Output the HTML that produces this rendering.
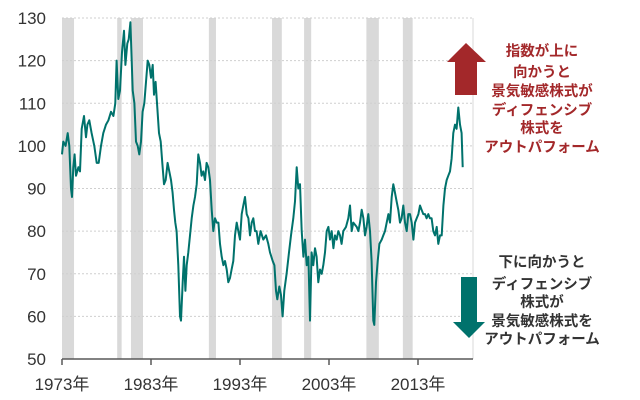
<!DOCTYPE html>
<html><head><meta charset="utf-8"><style>
html,body{margin:0;padding:0;background:#fff;}
svg{display:block;font-family:"Liberation Sans","Noto Sans CJK JP",sans-serif;}
</style></head><body>
<svg id="chart" width="640" height="400" viewBox="0 0 640 400">
<g id="bands"></g>
<g id="grid"></g>
<line x1="473" y1="18" x2="473" y2="359" stroke="#d9d9d9" stroke-width="1"/>
<g id="yaxis"></g>
<g id="xaxis"></g>
<path id="series" fill="none" stroke="#00726c" stroke-width="2" stroke-linejoin="round"/>
<g>
<polygon points="466,43 486,62 477,62 477,95 455,95 455,62 447,62" fill="#a3282a"/>
<g font-size="14.5" font-weight="bold" fill="#a3282a" text-anchor="middle">
<text x="542" y="56">指数が上に</text>
<text x="542" y="77">向かうと</text>
<text x="542" y="96">景気敏感株式が</text>
<text x="542" y="115">ディフェンシブ</text>
<text x="542" y="133">株式を</text>
<text x="542" y="152">アウトパフォーム</text>
</g></g>
<g>
<polygon points="461,277 477,277 477,322 485,322 469,338 453,322 461,322" fill="#00726c"/>
<g font-size="14.5" font-weight="bold" fill="#333" text-anchor="middle">
<text x="542" y="267">下に向かうと</text>
<text x="542" y="289">ディフェンシブ</text>
<text x="542" y="307">株式が</text>
<text x="542" y="326">景気敏感株式を</text>
<text x="542" y="344">アウトパフォーム</text>
</g></g>
</svg>
<script>
const years=[1973.0,1973.15,1973.41,1973.64,1973.82,1974.01,1974.12,1974.27,1974.42,1974.57,1974.84,1975.02,1975.21,1975.47,1975.70,1975.85,1976.07,1976.33,1976.63,1976.90,1977.12,1977.38,1977.64,1977.94,1978.21,1978.51,1978.77,1978.99,1979.14,1979.33,1979.52,1979.74,1979.97,1980.12,1980.34,1980.49,1980.68,1980.83,1980.94,1981.13,1981.31,1981.50,1981.69,1981.88,1982.06,1982.25,1982.44,1982.63,1982.81,1983.00,1983.19,1983.34,1983.52,1983.71,1983.90,1984.09,1984.27,1984.46,1984.65,1984.87,1985.06,1985.25,1985.43,1985.58,1985.73,1985.88,1986.07,1986.26,1986.37,1986.56,1986.71,1986.86,1987.01,1987.19,1987.38,1987.57,1987.76,1987.94,1988.13,1988.32,1988.51,1988.69,1988.88,1989.07,1989.25,1989.44,1989.63,1989.82,1990.00,1990.19,1990.38,1990.57,1990.75,1990.94,1991.13,1991.31,1991.50,1991.69,1991.88,1992.06,1992.25,1992.44,1992.63,1992.81,1993.00,1993.19,1993.37,1993.56,1993.75,1993.94,1994.12,1994.31,1994.50,1994.69,1994.87,1995.06,1995.32,1995.62,1995.92,1996.18,1996.37,1996.67,1996.86,1997.04,1997.19,1997.42,1997.61,1997.79,1997.98,1998.24,1998.51,1998.73,1998.99,1999.18,1999.37,1999.55,1999.74,1999.93,2000.12,2000.30,2000.49,2000.68,2000.87,2001.05,2001.24,2001.43,2001.61,2001.80,2001.99,2002.18,2002.36,2002.55,2002.74,2002.93,2003.11,2003.30,2003.49,2003.67,2003.86,2004.05,2004.24,2004.42,2004.61,2004.91,2005.17,2005.36,2005.55,2005.73,2006.11,2006.30,2006.48,2006.67,2006.86,2007.04,2007.23,2007.42,2007.61,2007.79,2007.98,2008.09,2008.28,2008.47,2008.66,2008.92,2009.10,2009.29,2009.48,2009.67,2009.85,2010.04,2010.23,2010.42,2010.60,2010.79,2010.98,2011.16,2011.35,2011.54,2011.73,2011.91,2012.10,2012.29,2012.48,2012.66,2012.85,2013.04,2013.22,2013.41,2013.60,2013.79,2013.97,2014.16,2014.34,2014.53,2014.72,2014.91,2015.10,2015.28,2015.47,2015.66,2015.85,2016.03,2016.22,2016.41,2016.60,2016.78,2016.97,2017.16,2017.34,2017.53,2017.72,2017.90,2018.02];
const values=[98,101,100,103,100,90,88,95,98,93,95,94,104,107,102,105,106,103,100,96,96,100,103,105,106,108,107,110,120,111,113,122,127,119,124,125,129,120,113,110,101,100,98,101,108,110,115,120,119,116,119,112,115,109,103,101,96,91,92,96,94,92,89,85,82,80,72,60,59,68,74,66,72,75,79,83,86,88,91,98,96,93,94,92,96,95,92,85,80,83,82,82,77,74,72,73,71,68,69,71,73,79,82,80,78,84,86,88,84,83,79,82,83,80,80,77,80,78,79,77,75,73,72,66,64,67,65,60,66,70,75,79,83,87,95,90,91,80,74,78,72,74,59,75,72,76,74,68,71,70,72,75,80,81,78,80,76,79,78,80,79,77,80,81,83,86,80,82,81,80,82,85,83,79,81,84,80,73,59,58,68,73,77,78,79,80,82,84,82,88,91,89,87,85,82,83,86,82,80,84,84,82,78,82,83,84,86,85,84,84,83,84,83,83,80,79,81,77,79,79,86,90,92,93,94,97,103,105,104,109,105,103,95];
const bandStarts=[1972.9,1979.2,1980.75,1989.5,1996.6,2000.2,2007.2,2011.3];
const bandEnds=[1974.35,1979.7,1982.1,1990.3,1997.7,2001.0,2008.6,2012.4];
const yTicks=[50,60,70,80,90,100,110,120,130];
const xTicks=[1973,1983,1993,2003,2013];
const xTickLabels=["1973年","1983年","1993年","2003年","2013年"];

const NS="http://www.w3.org/2000/svg";
const X=y=>62+(y-1973)*8.9;
const Y=v=>359-(v-50)*(341/80);
function mk(tag,attrs,parent){const e=document.createElementNS(NS,tag);for(const k in attrs)e.setAttribute(k,attrs[k]);parent.appendChild(e);return e;}
const bands=document.getElementById('bands'),grid=document.getElementById('grid'),yaxis=document.getElementById('yaxis'),xaxis=document.getElementById('xaxis');
bandStarts.forEach((s,i)=>{
  const r=mk('rect',{x:Math.max(62,X(s)),y:18,width:X(bandEnds[i])-Math.max(62,X(s)),height:341,fill:'#d9d9d9'},bands);
  
  
});
yTicks.forEach(t=>{
  if(t>50){const l=mk('line',{x1:62,x2:473,y1:Y(t),y2:Y(t),stroke:'#cfcfcf','stroke-width':1,'stroke-dasharray':'2,2'},grid);
  
  }
  const tx=mk('text',{x:46,y:Y(t)+6,'font-size':17,fill:'#333','text-anchor':'end'},yaxis);
  tx.textContent=t;
  
  
});
const ax=mk('line',{x1:62,x2:473,y1:359,y2:359,stroke:'#595959','stroke-width':1.5},xaxis);


xTicks.forEach((t,i)=>{
  const tk=mk('line',{x1:X(t),x2:X(t),y1:359,y2:365,stroke:'#595959','stroke-width':1.5},xaxis);
  
  
  const tx=mk('text',{x:X(t),y:390,'font-size':17,fill:'#333','text-anchor':'middle'},xaxis);
  tx.textContent=xTickLabels[i];
  
  
});
document.getElementById('series').setAttribute('d',years.map((y,i)=>(i?'L':'M')+X(y).toFixed(1)+','+Y(values[i]).toFixed(1)).join(''));
</script>
</body></html>
